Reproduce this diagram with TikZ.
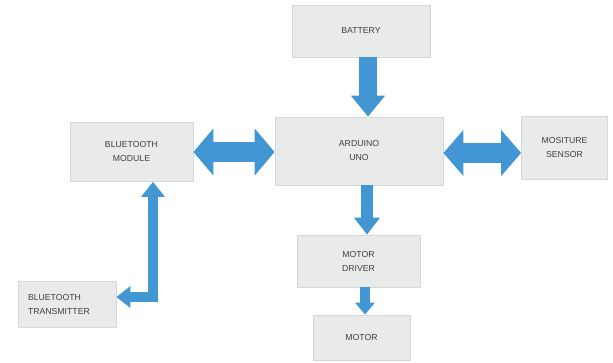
\documentclass[tikz,border=0pt]{standalone}
\usepackage{fontspec}
\setmainfont{Liberation Sans}
\usetikzlibrary{arrows.meta}
\definecolor{boxfill}{RGB}{233,234,234}
\definecolor{boxline}{RGB}{214,216,216}
\definecolor{arrblue}{RGB}{66,150,212}
\definecolor{txt}{RGB}{64,64,64}
\tikzset{
  blk/.style={draw=boxline, fill=boxfill, line width=0.8pt, text=txt,
    font=\fontsize{8.7}{14}\selectfont, align=center, inner sep=0pt},
  fat/.style={draw=arrblue, line cap=butt, line join=miter},
}
\begin{document}
\begin{tikzpicture}[x=1pt,y=-1pt]
\useasboundingbox[fill=white] (0,0) rectangle (613,362);
\node[blk, minimum width=138pt, minimum height=52pt] (bat) at (361,31) {BATTERY};
\node[blk, minimum width=168pt, minimum height=68pt] (ard) at (359,151) {ARDUINO\\UNO};
\node[blk, minimum width=86pt, minimum height=63pt] (moi) at (564.5,148) {MOSITURE\\SENSOR};
\node[blk, minimum width=123pt, minimum height=59pt] (btm) at (131.5,152) {BLUETOOTH\\MODULE};
\node[blk, minimum width=123pt, minimum height=52pt] (drv) at (358.5,261) {MOTOR\\DRIVER};
\node[blk, minimum width=97pt, minimum height=45pt] (mot) at (361.5,337.5) {MOTOR};
\node[blk, minimum width=98pt, minimum height=46pt, text width=78pt, align=left] (btt) at (67,304.5) {BLUETOOTH\\TRANSMITTER};
% arrows
\draw[fat, line width=18pt, -{Triangle[width=33pt,length=21pt]}]
  ([xshift=7pt]bat.south) -- ([xshift=9pt]ard.north);
\draw[fat, line width=20pt, {Triangle[width=46pt,length=20pt]}-{Triangle[width=46pt,length=20pt]}]
  (btm.east |- 0,152) -- (ard.west |- 0,152);
\draw[fat, line width=20pt, {Triangle[width=45pt,length=20pt]}-{Triangle[width=45pt,length=20pt]}]
  (ard.east |- 0,153) -- (moi.west |- 0,153);
\draw[fat, line width=12pt, -{Triangle[width=25pt,length=17pt]}]
  ([xshift=8pt]ard.south) -- ([xshift=8.5pt]drv.north);
\draw[fat, line width=10pt, -{Triangle[width=19pt,length=12pt]}]
  ([xshift=6.5pt]drv.south) -- ([xshift=3.5pt]mot.north);
\draw[fat, line width=10pt, {Triangle[width=23pt,length=15pt]}-{Triangle[width=21pt,length=14pt]}]
  ([xshift=21.5pt]btm.south) |- ([yshift=7.5pt]btt.east);
\end{tikzpicture}
\end{document}
